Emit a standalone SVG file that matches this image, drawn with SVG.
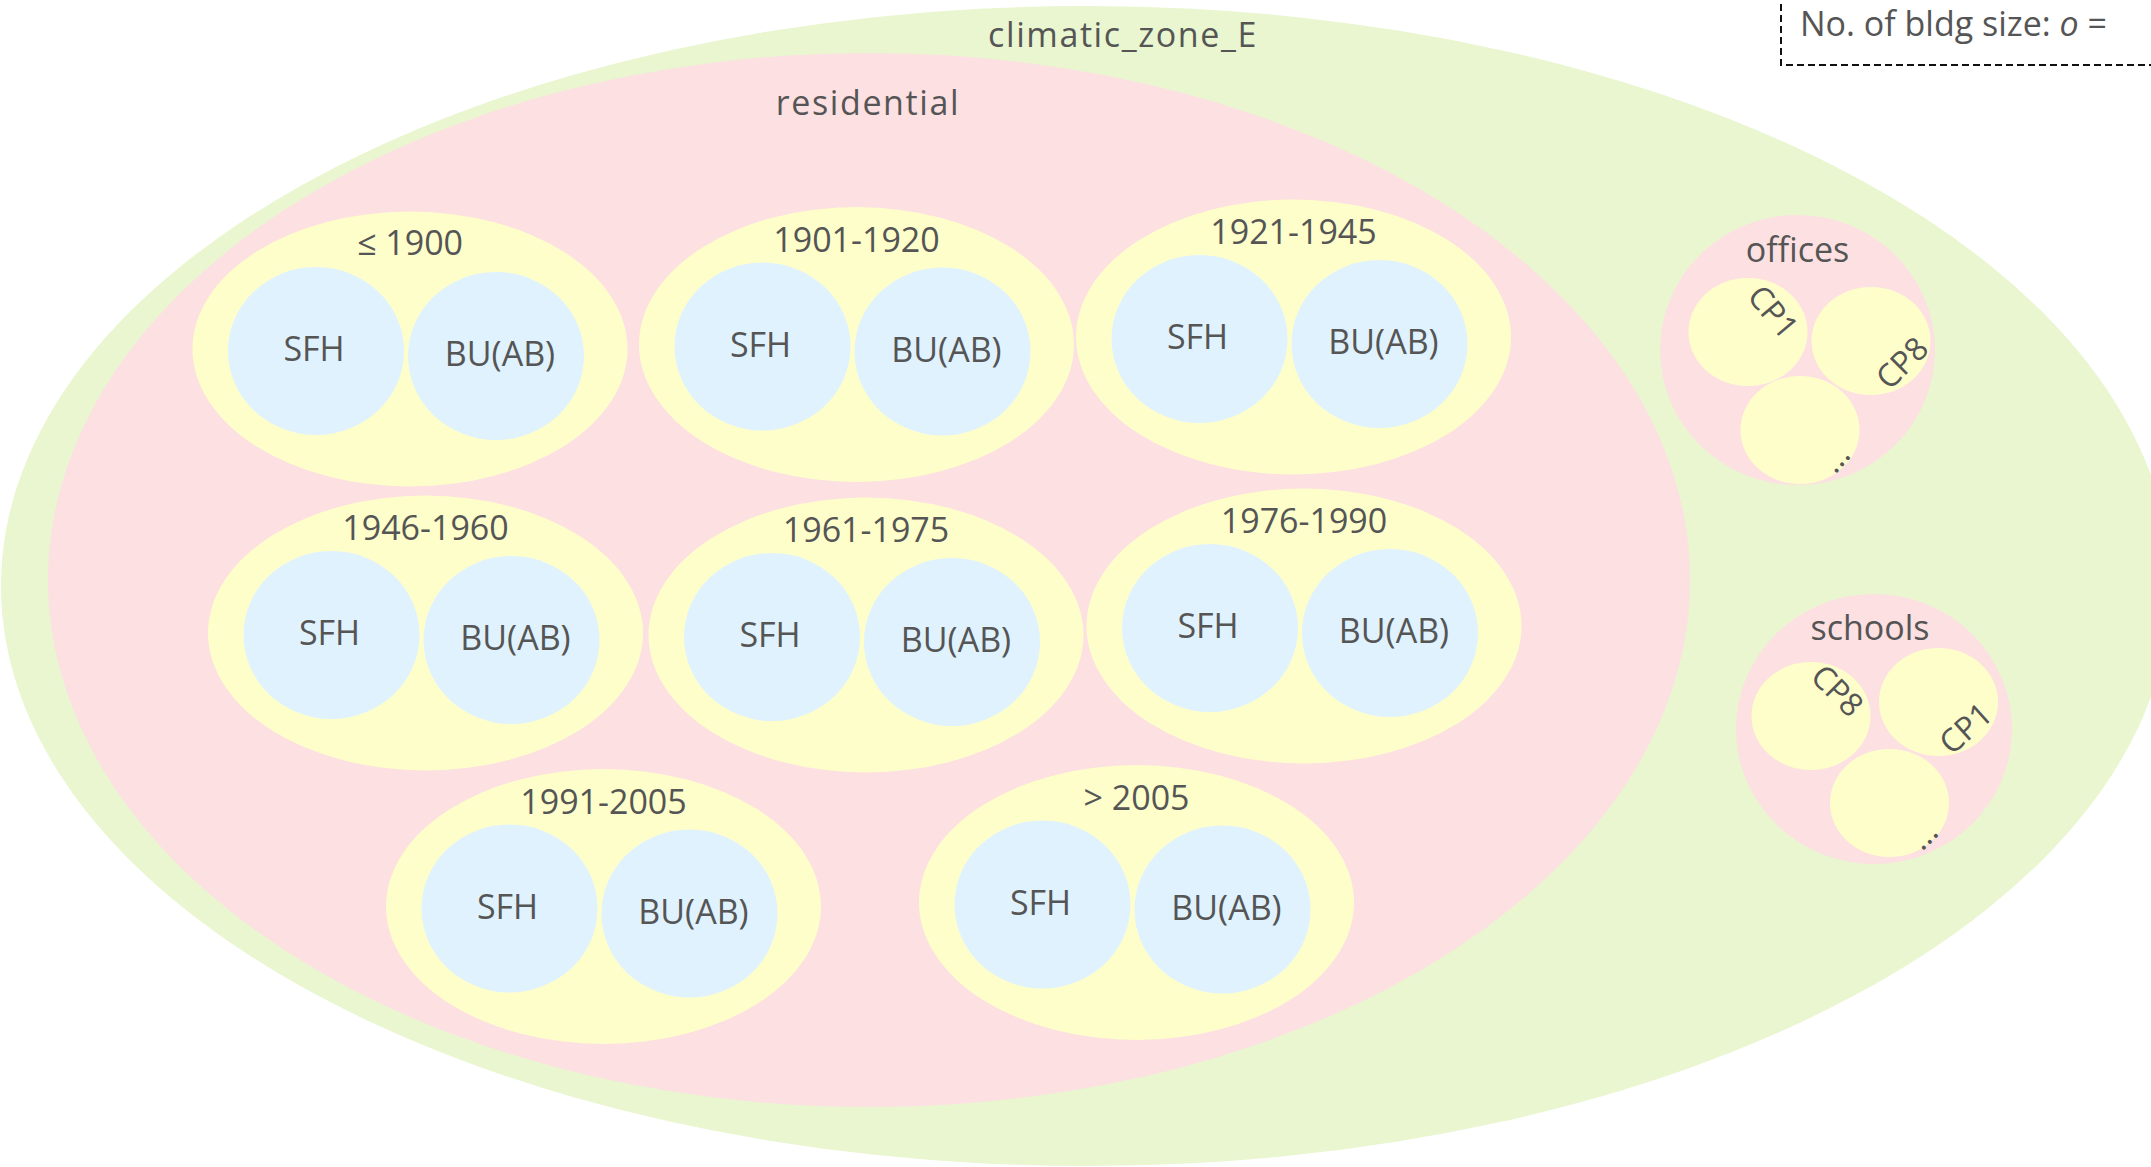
<svg xmlns="http://www.w3.org/2000/svg" width="2151" height="1167" viewBox="0 0 2151 1167">
<style>
text{font-family:"Open Sans","Noto Sans","DejaVu Sans",sans-serif;fill:#555;font-size:34px;text-anchor:middle}
.zone{fill:#e9f6d0}
.sector{fill:#fde0e1}
.age{fill:#fefecb}
.type{fill:#e0f2fe}
.cp{font-size:32px}
.wide{letter-spacing:1.6px}
.legend{fill:none;stroke:#111;stroke-width:2;stroke-dasharray:7 4}
</style>
<defs>
<g id="pair">
<ellipse class="age" cx="0" cy="0" rx="217.5" ry="137.5"/>
<ellipse class="type" cx="-94" cy="2" rx="88" ry="84"/>
<ellipse class="type" cx="86" cy="7" rx="88" ry="84"/>
<text x="-96" y="12">SFH</text>
<text x="90" y="17">BU(AB)</text>
</g>
</defs>
<rect width="2151" height="1167" fill="#fff"/>
<g id="climatic_zone_E">
<ellipse class="zone" cx="1086" cy="586" rx="1085" ry="580"/>
<text class="wide" x="1123" y="47">climatic_zone_E</text>
</g>
<g id="residential">
<ellipse class="sector" cx="869" cy="580" rx="821" ry="527"/>
<text class="wide" x="868" y="115">residential</text>
</g>
<g id="age_1900" transform="translate(410,349)"><use href="#pair"/><text x="0" y="-94">≤ 1900</text></g>
<g id="age_1901_1920" transform="translate(856.5,344.5)"><use href="#pair"/><text x="0" y="-93">1901-1920</text></g>
<g id="age_1921_1945" transform="translate(1293.5,337)"><use href="#pair"/><text x="0" y="-93">1921-1945</text></g>
<g id="age_1946_1960" transform="translate(425.5,633)"><use href="#pair"/><text x="0" y="-93">1946-1960</text></g>
<g id="age_1961_1975" transform="translate(866,635)"><use href="#pair"/><text x="0" y="-93">1961-1975</text></g>
<g id="age_1976_1990" transform="translate(1304,626)"><use href="#pair"/><text x="0" y="-93">1976-1990</text></g>
<g id="age_1991_2005" transform="translate(603.5,906.5)"><use href="#pair"/><text x="0" y="-93">1991-2005</text></g>
<g id="age_2005" transform="translate(1136.5,902.5)"><use href="#pair"/><text x="0" y="-93">&gt; 2005</text></g>
<g id="offices" transform="translate(1797.5,350)">
<ellipse class="sector" cx="0" cy="0" rx="137.5" ry="135"/>
<text x="0" y="-88">offices</text>
<ellipse class="age" cx="-49.5" cy="-18" rx="59.5" ry="54"/>
<ellipse class="age" cx="73.5" cy="-9" rx="59.5" ry="54"/>
<ellipse class="age" cx="2.5" cy="80" rx="59.5" ry="54"/>
<text class="cp" transform="translate(-24.5,-38) rotate(50)" dy="0.35em">CP1</text>
<text class="cp" transform="translate(104.5,13) rotate(-45)" dy="0.35em">CP8</text>
<text class="cp" transform="translate(37.5,108) rotate(-48)" dy="0.35em">...</text>
</g>
<g id="schools" transform="translate(1874,729)">
<ellipse class="sector" cx="0" cy="0" rx="138" ry="135"/>
<text x="-4" y="-89">schools</text>
<ellipse class="age" cx="-63" cy="-13" rx="59.5" ry="54"/>
<ellipse class="age" cx="64.5" cy="-27" rx="59.5" ry="54"/>
<ellipse class="age" cx="15.5" cy="74" rx="59.5" ry="54"/>
<text class="cp" transform="translate(-36.7,-38.3) rotate(45)" dy="0.35em">CP8</text>
<text class="cp" transform="translate(91.7,-0.7) rotate(-42)" dy="0.35em">CP1</text>
<text class="cp" transform="translate(49,106) rotate(-45)" dy="0.35em">...</text>
</g>
<g id="connectors"/>
<g id="legend">
<rect class="legend" x="1781" y="-20" width="420" height="85"/>
<text x="1800" y="36" style="text-anchor:start">No. of bldg size: <tspan font-style="italic">o</tspan> =</text>
</g>
</svg>
